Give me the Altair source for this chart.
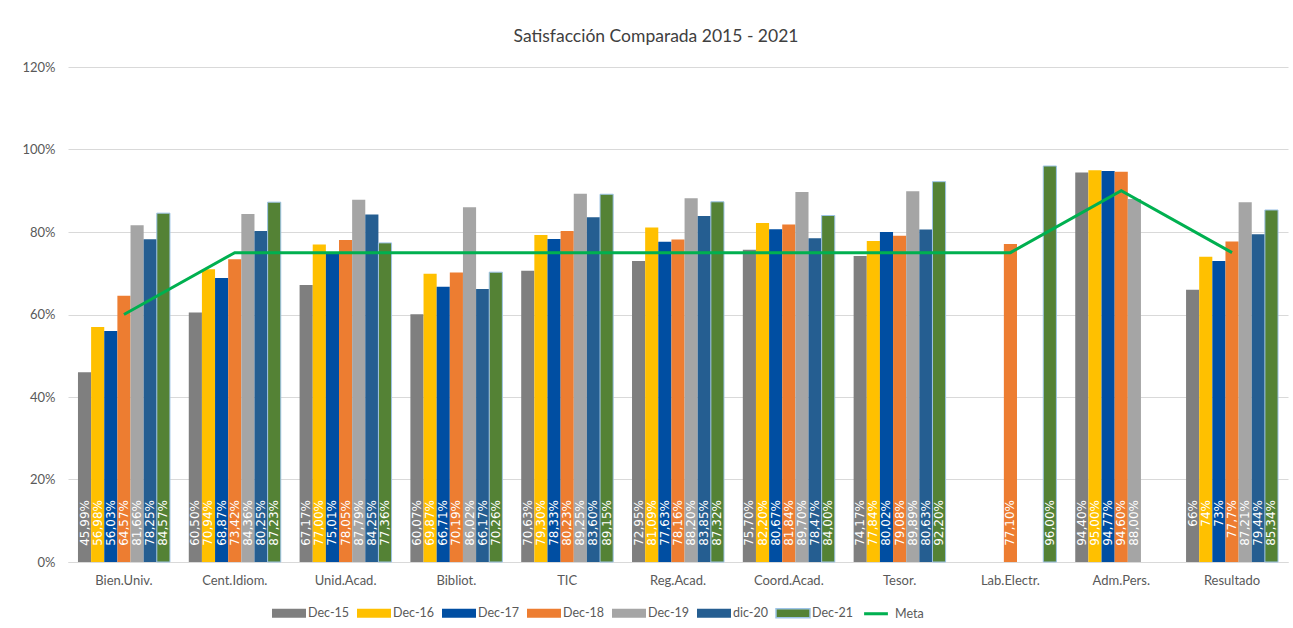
import altair as alt
import pandas as pd

categories = ["Bien.Univ.", "Cent.Idiom.", "Unid.Acad.", "Bibliot.", "TIC", "Reg.Acad.",
              "Coord.Acad.", "Tesor.", "Lab.Electr.", "Adm.Pers.", "Resultado"]
series = ["Dec-15", "Dec-16", "Dec-17", "Dec-18", "Dec-19", "dic-20", "Dec-21"]
colors = ["#7f7f7f", "#ffc000", "#004ea2", "#ed7d31", "#a5a5a5", "#255e91", "#548235"]
meta_color = "#00b050"

dec15 = [45.99, 60.50, 67.17, 60.07, 70.63, 72.95, 75.70, 74.17, None, 94.40, 66]
dec16 = [56.98, 70.94, 77.00, 69.87, 79.30, 81.09, 82.20, 77.84, None, 95.00, 74]
dec17 = [56.03, 68.87, 75.01, 66.71, 78.33, 77.63, 80.67, 80.02, None, 94.77, 73]
dec18 = [64.57, 73.42, 78.05, 70.19, 80.23, 78.16, 81.84, 79.08, 77.10, 94.60, 77.7]
dec19 = [81.66, 84.36, 87.79, 86.02, 89.25, 88.20, 89.70, 89.89, None, 88.00, 87.21]
dic20 = [78.25, 80.25, 84.25, 66.17, 83.60, 83.85, 78.47, 80.63, None, None, 79.44]
dec21 = [84.57, 87.23, 77.36, 70.26, 89.15, 87.32, 84.00, 92.20, 96.00, None, 85.34]
meta = [60, 75, 75, 75, 75, 75, 75, 75, 75, 90, 75]
resultado_decimals = [0, 0, 0, 1, 2, 2, 2]

y_ticks = [0, 0.2, 0.4, 0.6, 0.8, 1.0, 1.2]

rows = []
for si, (s, vals) in enumerate(zip(series, [dec15, dec16, dec17, dec18, dec19, dic20, dec21])):
    for c, v in zip(categories, vals):
        if v is None:
            continue
        dec = resultado_decimals[si] if c == "Resultado" else 2
        label = f"{v:.{dec}f}".replace(".", ",") + "%"
        rows.append({"cat": c, "serie": s, "value": v / 100, "label": label})
df = pd.DataFrame(rows)
meta_df = pd.DataFrame({"cat": categories, "value": [m / 100 for m in meta]})

FONT = "Lato"
TXT = "#595959"

x_enc = alt.X("cat:N", sort=categories, title=None,
              scale=alt.Scale(paddingInner=0.17, paddingOuter=0.09),
              axis=alt.Axis(labelAngle=0, ticks=False, domainColor="#d9d9d9",
                            labelPadding=12, labelFontSize=13, labelColor=TXT, labelFont=FONT))
xo_enc = alt.XOffset("serie:N", sort=series, scale=alt.Scale(domain=series))
y_scale = alt.Scale(domain=[0, 1.2], nice=False)

rect_path = "M-1,-0.26H1V0.26H-1Z"
line_path = "M-0.7,-0.09H0.7V0.09H-0.7Z"

bars = alt.Chart(df).mark_bar(strokeWidth=1).encode(
    x=x_enc,
    xOffset=xo_enc,
    y=alt.Y("value:Q", scale=y_scale, title=None,
            axis=alt.Axis(values=y_ticks, format=".0%", ticks=False, domain=False,
                          gridColor="#d9d9d9", labelPadding=13, labelFontSize=13,
                          labelColor=TXT, labelFont=FONT)),
    color=alt.Color("serie:N",
                    scale=alt.Scale(domain=series + ["Meta"], range=colors + [meta_color]),
                    legend=alt.Legend(title=None, orient="none", direction="horizontal",
                                      legendX=203, legendY=528, columns=8,
                                      symbolType={"expr": f"datum.value === 'Meta' ? '{line_path}' : '{rect_path}'"},
                                      symbolStrokeColor={"expr": "datum.value === 'Dec-21' ? '#9dc3e6' : 'transparent'"},
                                      symbolSize=1156,
                                      symbolOpacity=1, labelFontSize=12.5, labelColor=TXT,
                                      labelFont=FONT, labelOffset=1, columnPadding=4)),
    stroke=alt.condition(alt.datum.serie == "Dec-21", alt.value("#9dc3e6"), alt.value("transparent")),
)

labels = alt.Chart(df).mark_text(
    angle=270, align="right", baseline="middle", dx=62, color="white",
    fontSize=12, font="DejaVu Sans"
).encode(
    x=alt.X("cat:N", sort=categories),
    xOffset=xo_enc,
    y=alt.datum(0),
    text="label:N",
)

line = alt.Chart(meta_df).mark_line(color=meta_color, strokeWidth=3).encode(
    x=alt.X("cat:N", sort=categories),
    y=alt.Y("value:Q", scale=y_scale),
)

chart = alt.layer(bars, line, labels).properties(
    width=1220, height=495,
    padding={"left": 68, "top": 67, "right": 5, "bottom": 66},
    autosize=alt.AutoSizeParams(type="none"),
    background="white",
    title=alt.TitleParams("Satisfacción Comparada 2015 - 2021", fontSize=17.5, font=FONT,
                          fontWeight="normal", color="#404040", offset=16, dx=-22),
).configure_view(stroke=None)

chart.save("out.html", embed_options={"renderer": "svg", "actions": False})
